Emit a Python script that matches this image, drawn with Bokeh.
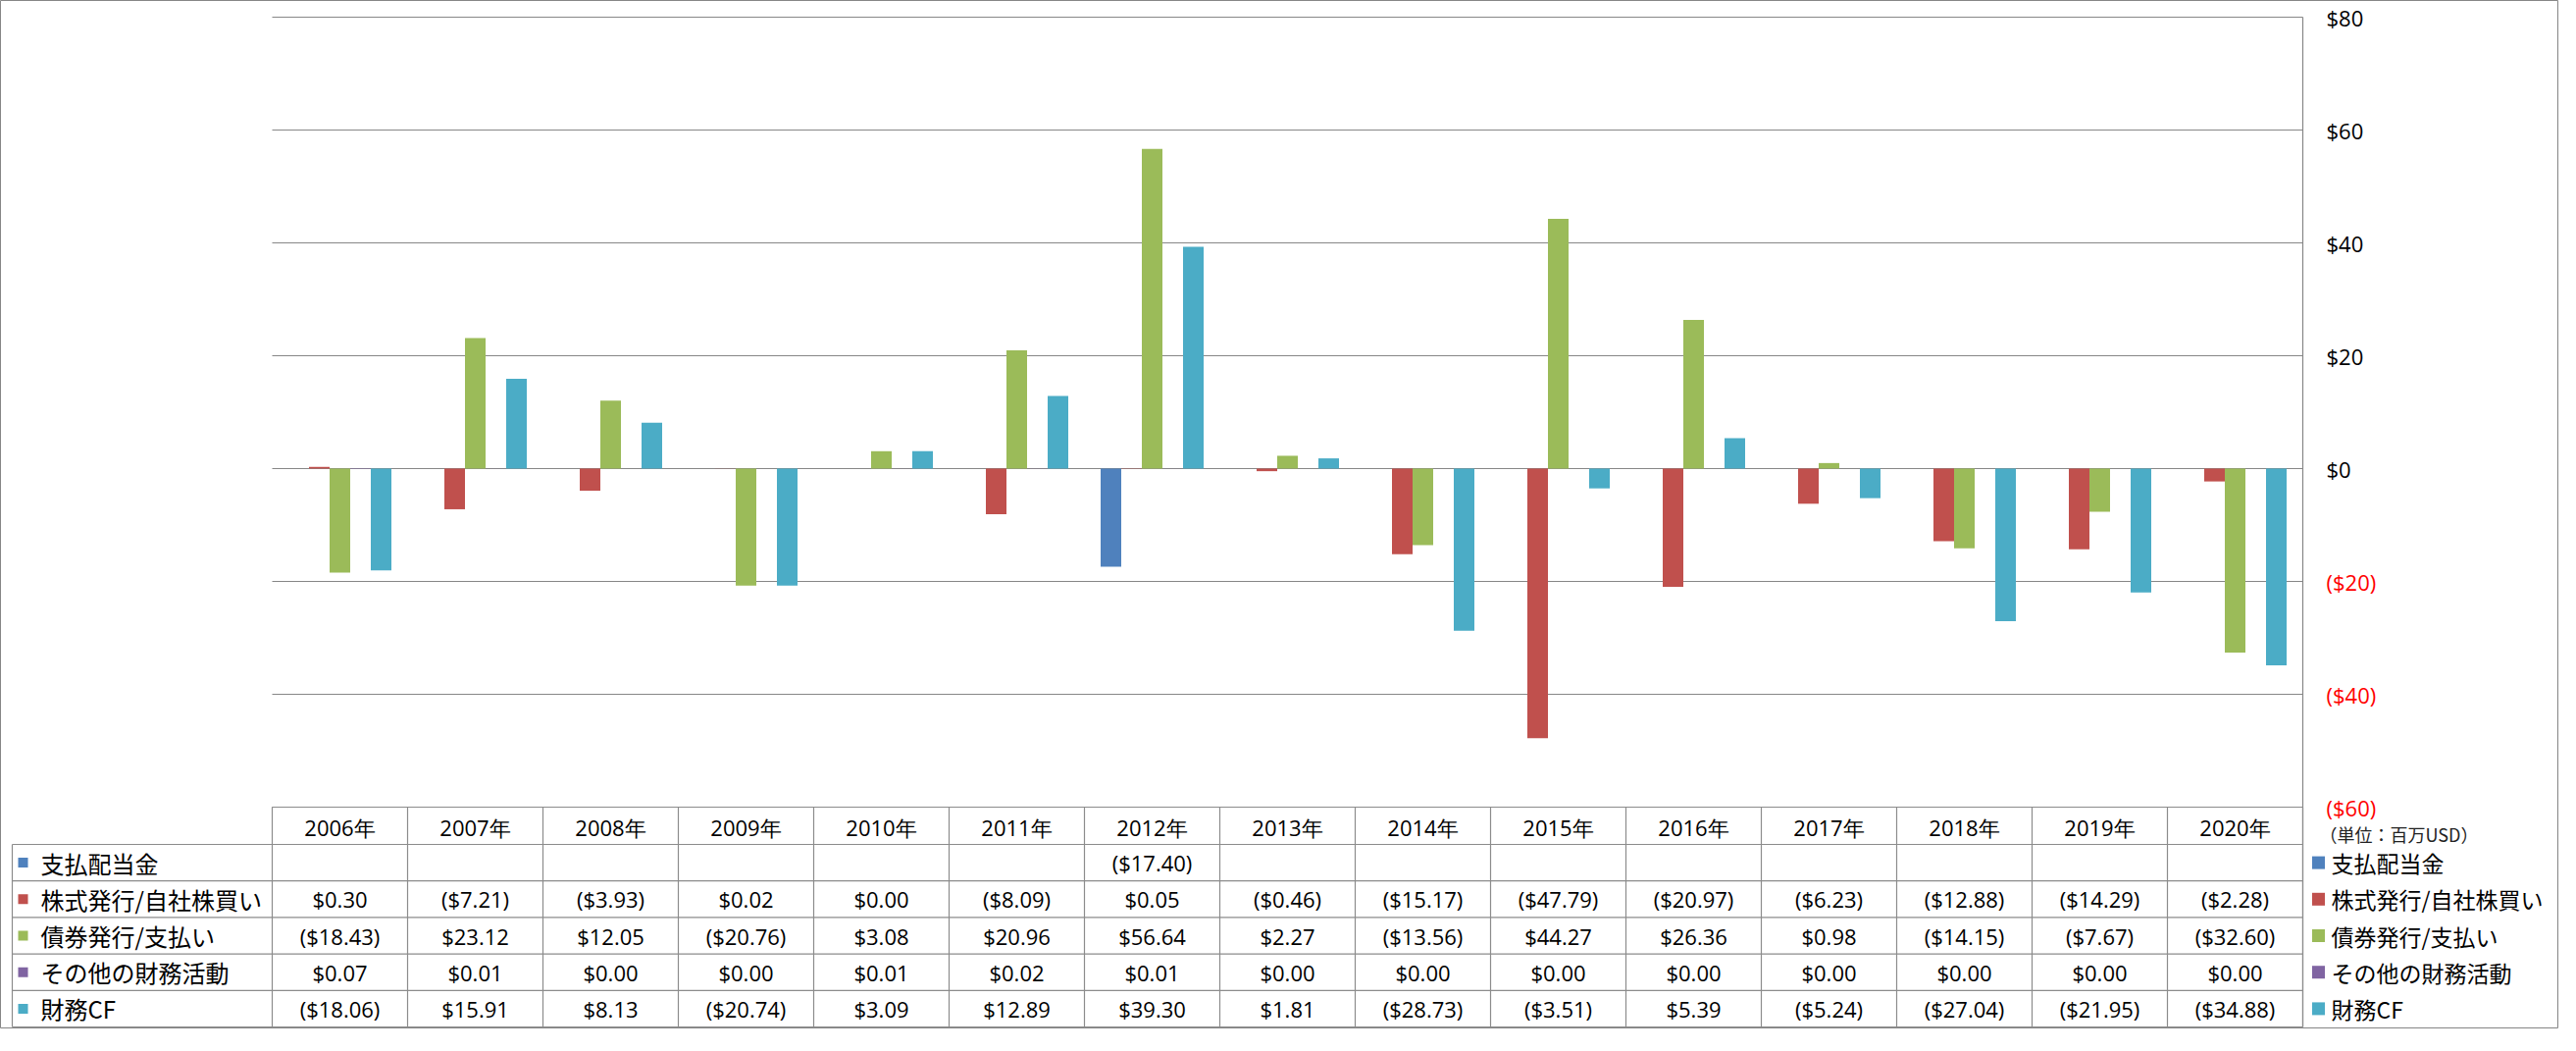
from bokeh.plotting import figure
from bokeh.models import Range1d, ColumnDataSource
from bokeh.embed import file_html
from bokeh.resources import INLINE
from bokeh.core.properties import value

# ---------------- data ----------------
YEARS = ["2006年", "2007年", "2008年", "2009年", "2010年", "2011年", "2012年", "2013年",
         "2014年", "2015年", "2016年", "2017年", "2018年", "2019年", "2020年"]
SERIES = ["支払配当金", "株式発行/自社株買い", "債券発行/支払い", "その他の財務活動", "財務CF"]
COLORS = ["#4F81BD", "#C0504D", "#9BBB59", "#8064A2", "#4BACC6"]

DIVIDENDS = [None, None, None, None, None, None, -17.40, None, None, None, None, None, None, None, None]
STOCK = [0.30, -7.21, -3.93, 0.02, 0.00, -8.09, 0.05, -0.46, -15.17, -47.79, -20.97, -6.23, -12.88, -14.29, -2.28]
BONDS = [-18.43, 23.12, 12.05, -20.76, 3.08, 20.96, 56.64, 2.27, -13.56, 44.27, 26.36, 0.98, -14.15, -7.67, -32.60]
OTHER = [0.07, 0.01, 0.00, 0.00, 0.01, 0.02, 0.01, 0.00, 0.00, 0.00, 0.00, 0.00, 0.00, 0.00, 0.00]
FIN_CF = [-18.06, 15.91, 8.13, -20.74, 3.09, 12.89, 39.30, 1.81, -28.73, -3.51, 5.39, -5.24, -27.04, -21.95, -34.88]
SERIES_VALUES = [DIVIDENDS, STOCK, BONDS, OTHER, FIN_CF]

Y_TICKS = [80, 60, 40, 20, 0, -20, -40, -60]
Y_MIN, Y_MAX = -60, 80
UNIT_LABEL = "（単位：百万USD）"

# ---------------- layout (pixels) ----------------
W, H = 2608, 1048
PL = 277            # left edge of plot area
CW = 138            # column width
N = len(YEARS)
PR = PL + N * CW    # right edge of plot area / table
TL = 12             # left edge of table label column
Y_TOP = 17          # pixel of Y_MAX
Y_BOT = 822         # pixel of Y_MIN (= table top)
HEADER_H = 38
ROW_TOP = Y_BOT + HEADER_H
TABLE_BOTTOM = H - 2
RH = (TABLE_BOTTOM - ROW_TOP) / len(SERIES)
BAR_PX = 21
GRID = "#878787"
LINE = "#8C8C8C"
NUM_FONT = value("Open Sans")
JP_FONT = value("Noto Sans CJK JP")

PPU = (Y_BOT - Y_TOP) / (Y_MAX - Y_MIN)

p = figure(width=W, height=H, title=None, output_backend="svg", toolbar_location=None,
           x_range=Range1d(0, W), y_range=Range1d(H, 0),
           min_border=0, min_border_left=0, min_border_right=0,
           min_border_top=0, min_border_bottom=0)
p.axis.visible = False
p.grid.visible = False
p.outline_line_color = "#868686"
p.outline_line_width = 1
p.background_fill_color = "white"
p.border_fill_color = "white"

p.extra_x_ranges = {"cat": Range1d(-PL / CW, (W - PL) / CW)}
p.extra_y_ranges = {"val": Range1d(Y_MIN - (H - Y_BOT) / PPU, Y_MAX + Y_TOP / PPU)}

# gridlines
p.segment(x0=[PL] * len(Y_TICKS), x1=[PR] * len(Y_TICKS), y0=Y_TICKS, y1=Y_TICKS,
          y_range_name="val", line_color=GRID, line_width=1.2)

# bars
bw = BAR_PX / CW
ns = len(SERIES)
for s, (vals, col) in enumerate(zip(SERIES_VALUES, COLORS)):
    xs = [i + 0.5 + (s - (ns - 1) / 2) * bw for i, v in enumerate(vals) if v is not None]
    ys = [v for v in vals if v is not None]
    src = ColumnDataSource(dict(x=xs, top=ys))
    p.vbar(x="x", top="top", bottom=0, width=bw, source=src, fill_color=col,
           line_color=None, x_range_name="cat", y_range_name="val")

# right axis line (continues as table right border)
p.segment(x0=[PR], x1=[PR], y0=[Y_TOP], y1=[TABLE_BOTTOM], line_color=GRID, line_width=1.2)

# tick labels
def tick_fmt(t):
    return f"(${-t:d})" if t < 0 else f"${t:d}"

p.text(x=[PR + 24] * len(Y_TICKS), y=Y_TICKS, text=[tick_fmt(t) for t in Y_TICKS],
       y_range_name="val", text_font=NUM_FONT, text_font_size="22px",
       text_align="left", text_baseline="middle",
       text_color=["#FF0000" if t < 0 else "#000000" for t in Y_TICKS])

p.text(x=[PR + 17], y=[Y_BOT + 27], text=[UNIT_LABEL], text_font=JP_FONT,
       text_font_size="18px", text_align="left", text_baseline="middle", text_color="#222222")

# ---------------- data table ----------------
row_lines = [ROW_TOP + r * RH for r in range(ns + 1)]
p.segment(x0=[PL], x1=[PR], y0=[Y_BOT], y1=[Y_BOT], line_color=LINE, line_width=1.2)
p.segment(x0=[TL] * len(row_lines), x1=[PR] * len(row_lines), y0=row_lines, y1=row_lines,
          line_color=LINE, line_width=1.2)
col_lines = [PL + k * CW for k in range(N + 1)]
p.segment(x0=col_lines, x1=col_lines, y0=[Y_BOT] * len(col_lines),
          y1=[TABLE_BOTTOM] * len(col_lines), line_color=LINE, line_width=1.2)
p.segment(x0=[TL], x1=[TL], y0=[ROW_TOP], y1=[TABLE_BOTTOM], line_color=LINE, line_width=1.2)

centers = [PL + (i + 0.5) * CW for i in range(N)]
p.text(x=centers, y=[Y_BOT + HEADER_H / 2 + 1] * N, text=YEARS, text_font=NUM_FONT,
       text_font_size="22px", text_align="center", text_baseline="middle", text_color="#000000")

def val_fmt(v):
    if v is None:
        return ""
    return f"(${-v:.2f})" if v < 0 else f"${v:.2f}"

row_centers = [ROW_TOP + (r + 0.5) * RH for r in range(ns)]
for r, vals in enumerate(SERIES_VALUES):
    p.text(x=centers, y=[row_centers[r]] * N, text=[val_fmt(v) for v in vals],
           text_font=NUM_FONT, text_font_size="22px", text_align="center",
           text_baseline="middle", text_color="#000000")

# left label column (legend keys + names)
p.scatter(x=[TL + 11] * ns, y=row_centers, marker="square", size=10, color=COLORS, line_color=None)
p.text(x=[TL + 29] * ns, y=row_centers, text=SERIES, text_font=JP_FONT,
       text_font_size="24px", text_align="left", text_baseline="middle", text_color="#000000")

# right legend
p.scatter(x=[PR + 16] * ns, y=row_centers, marker="square", size=13, color=COLORS, line_color=None)
p.text(x=[PR + 29] * ns, y=row_centers, text=SERIES, text_font=JP_FONT,
       text_font_size="23px", text_align="left", text_baseline="middle", text_color="#000000")

open("out.html", "w").write(file_html(p, INLINE))
